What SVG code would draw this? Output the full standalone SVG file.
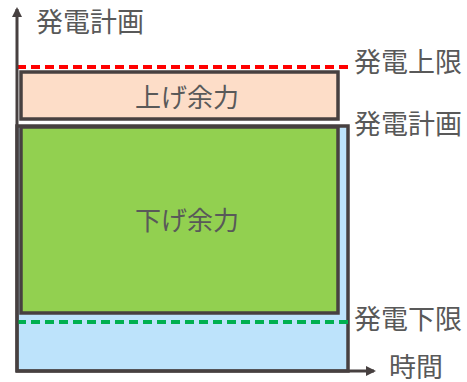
<svg xmlns="http://www.w3.org/2000/svg" width="467" height="382" viewBox="0 0 467 382">
<style>
.lbl{font-family:"Noto Sans CJK JP","Noto Sans",sans-serif;font-size:27px;fill:#595959}
.in{font-size:26px}
.box{stroke:#474040;stroke-width:3.5}
</style>
<defs>
<marker id="ah" markerWidth="10" markerHeight="10" refX="8" refY="5" orient="auto" markerUnits="userSpaceOnUse">
<path d="M0,0 L10,5 L0,10 Z" fill="#474040"/>
</marker>
</defs>
<rect width="467" height="382" fill="#fff"/>
<g id="plan">
<rect x="17" y="126" width="331" height="245" fill="#BDE3FB" class="box"/>
<text class="lbl" x="354" y="134">発電計画</text>
</g>
<g id="down">
<rect x="21" y="127" width="317" height="186" fill="#92D050" class="box"/>
<text class="lbl in" x="187" y="230" text-anchor="middle">下げ余力</text>
</g>
<g id="up">
<rect x="21" y="72" width="317" height="47" fill="#FDDDC8" class="box"/>
<text class="lbl in" x="187" y="107" text-anchor="middle">上げ余力</text>
</g>
<g id="connectors">
<line x1="17" y1="67" x2="348" y2="67" stroke="#FF0000" stroke-width="4" stroke-dasharray="9,5"/>
<line x1="17" y1="322" x2="348" y2="322" stroke="#00B050" stroke-width="4" stroke-dasharray="9,5"/>
<line x1="17" y1="372" x2="17" y2="9" stroke="#474040" stroke-width="3" marker-end="url(#ah)"/>
<line x1="16" y1="371" x2="374" y2="371" stroke="#474040" stroke-width="3" marker-end="url(#ah)"/>
</g>
<g id="labels">
<text class="lbl" x="36" y="32">発電計画</text>
<text class="lbl" x="354" y="72">発電上限</text>
<text class="lbl" x="354" y="329">発電下限</text>
<text class="lbl" x="389" y="377">時間</text>
</g>
</svg>
